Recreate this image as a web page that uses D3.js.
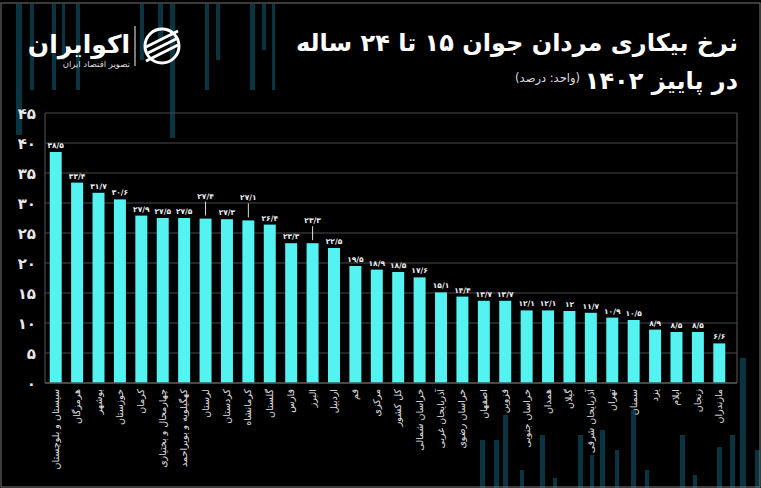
<!DOCTYPE html>
<html><head><meta charset="utf-8">
<script src="https://cdn.jsdelivr.net/npm/d3@7"></script>
<style>html,body{margin:0;padding:0;background:#000;}svg{display:block;}</style>
</head><body>
<script>
const provinces = ["سیستان و بلوچستان","هرمزگان","بوشهر","خوزستان","کرمان","چهارمحال و بختیاری","کهگیلویه و بویراحمد","لرستان","کردستان","کرمانشاه","گلستان","فارس","البرز","اردبیل","قم","مرکزی","کل کشور","خراسان شمالی","آذربایجان غربی","خراسان رضوی","اصفهان","قزوین","خراسان جنوبی","همدان","گیلان","آذربایجان شرقی","تهران","سمنان","یزد","ایلام","زنجان","مازندران"];
const rates = [38.5,33.4,31.7,30.6,27.9,27.5,27.5,27.4,27.3,27.1,26.4,23.3,23.3,22.5,19.5,18.9,18.5,17.6,15.1,14.4,13.7,13.7,12.1,12.1,12,11.7,10.9,10.5,8.9,8.5,8.5,6.6];
const yTicks = [0,5,10,15,20,25,30,35,40,45];
const liftedLabels = ["لرستان","کرمانشاه","البرز"];
const titleLine1 = "نرخ بیکاری مردان جوان ۱۵ تا ۲۴ ساله";
const titleLine2 = "در پاییز ۱۴۰۲";
const unitText = "(واحد: درصد)";

const W = 761, H = 488;
const fa = s => String(s).replace(/\d/g, d => "۰۱۲۳۴۵۶۷۸۹"[d]).replace(".", "/");
const FONT = "'DejaVu Sans', sans-serif";

const svg = d3.select("body").append("svg").attr("width", W).attr("height", H);
svg.append("rect").attr("width", W).attr("height", H).attr("fill", "#000");

// decorative streaks
const deco = [[16,4,135,6],[30,4,90,4],[52,4,90,4],[62,4,60,3],[76,4,90,4],[140,4,60,4],[158,4,40,5],[170,4,138,5],[205,4,90,4],[216,4,60,4],[250,4,90,5],[262,4,50,4],[272,4,90,3],
  [480,440,488,5],[494,440,488,5],[503,415,488,5],[520,470,488,4],[540,435,488,5],[553,478,488,4],[578,435,488,5],[590,455,488,4],[600,430,488,5],[615,450,488,4],[631,410,488,5],[645,470,488,4],[680,435,488,5],[693,475,488,4],[717,447,488,5],[730,435,488,5],[740,358,488,6],[755,450,488,5]];
svg.append("g").selectAll("rect").data(deco).join("rect")
  .attr("x", d => d[0]).attr("y", d => d[1]).attr("width", d => d[3]).attr("height", d => d[2]-d[1])
  .attr("fill", "#0b4252").attr("opacity", 0.8);

const x = d3.scaleBand().domain(provinces).range([45, 730]).paddingInner(0.44).paddingOuter(0.22);
const y = d3.scaleLinear().domain([0, 45]).range([383, 113]);

// grid
svg.append("g").selectAll("line").data(yTicks).join("line")
  .attr("x1", 45).attr("x2", 737).attr("y1", d => y(d)).attr("y2", d => y(d))
  .attr("stroke", "#4a4a4a").attr("stroke-width", 1.2);
svg.append("line").attr("x1", 45).attr("x2", 45).attr("y1", y(45)).attr("y2", y(0)).attr("stroke", "#4a4a4a").attr("stroke-width", 1.2);
svg.append("line").attr("x1", 737).attr("x2", 737).attr("y1", y(45)).attr("y2", y(0)).attr("stroke", "#4a4a4a").attr("stroke-width", 1.2);

// y axis
const yAxis = d3.axisLeft(y).tickValues(yTicks).tickFormat(fa).tickSize(0).tickPadding(0);
const ya = svg.append("g").attr("transform", "translate(36,0)").call(yAxis);
ya.select(".domain").remove();
ya.selectAll("text").attr("fill", "#e8e8e8").attr("font-family", FONT).attr("font-weight", "bold").attr("font-size", 15).attr("dy", "0.35em");

// bars
svg.append("g").selectAll("rect").data(provinces).join("rect")
  .attr("x", d => x(d)).attr("width", x.bandwidth())
  .attr("y", (d, i) => y(rates[i])).attr("height", (d, i) => y(0) - y(rates[i]))
  .attr("fill", "#55f2f2");
svg.append("line").attr("x1", 45).attr("x2", 737).attr("y1", y(0)).attr("y2", y(0)).attr("stroke", "#555").attr("stroke-width", 1.5);

// value labels
const vl = svg.append("g");
provinces.forEach((p, i) => {
  const cx = x(p) + x.bandwidth() / 2;
  const lift = liftedLabels.includes(p) ? 16 : 0;
  if (lift) {
    vl.append("line").attr("x1", cx).attr("x2", cx).attr("y1", y(rates[i]) - 3).attr("y2", y(rates[i]) - lift - 1)
      .attr("stroke", "#ddd").attr("stroke-width", 1);
  }
  vl.append("text").attr("x", cx).attr("y", y(rates[i]) - 4 - lift)
    .attr("text-anchor", "middle").attr("fill", "#f0f0f0").attr("font-family", FONT)
    .attr("font-weight", "bold").attr("font-size", 7.5).text(fa(rates[i]));
});

// x labels
const xa = svg.append("g");
provinces.forEach(p => {
  const cx = x(p) + x.bandwidth() / 2;
  xa.append("text").attr("transform", `translate(${cx + 3},389) rotate(-90)`)
    .attr("text-anchor", "end").attr("fill", "#e0e0e0").attr("font-family", FONT)
    .attr("font-size", 9.5).text(p);
});

// title
svg.append("text").attr("x", 738).attr("y", 51).attr("text-anchor", "end").attr("fill", "#fff")
  .attr("font-family", FONT).attr("font-weight", "bold").attr("font-size", 24).text(titleLine1);
svg.append("text").attr("x", 738).attr("y", 89).attr("text-anchor", "end").attr("fill", "#fff")
  .attr("font-family", FONT).attr("font-weight", "bold").attr("font-size", 24).text(titleLine2);
svg.append("text").attr("x", 580).attr("y", 82).attr("text-anchor", "end").attr("fill", "#ddd")
  .attr("font-family", FONT).attr("font-size", 11.5).text(unitText);

// logo
svg.append("text").attr("x", 130).attr("y", 53).attr("text-anchor", "end").attr("fill", "#fff")
  .attr("font-family", FONT).attr("font-weight", "bold").attr("font-size", 25).text("اکوایران");
svg.append("text").attr("x", 130).attr("y", 67).attr("text-anchor", "end").attr("fill", "#ddd")
  .attr("font-family", FONT).attr("font-size", 8.5).text("تصویر اقتصاد ایران");
svg.append("line").attr("x1", 135).attr("x2", 135).attr("y1", 26).attr("y2", 66).attr("stroke", "#ccc").attr("stroke-width", 1.2);
const icon = svg.append("g").attr("transform", "translate(162,46)");
icon.append("circle").attr("r", 17).attr("fill", "none").attr("stroke", "#fff").attr("stroke-width", 3);
[-7, 0, 7].forEach(o => icon.append("line").attr("x1", -16).attr("x2", 16).attr("y1", o + 8).attr("y2", o - 8)
  .attr("stroke", "#fff").attr("stroke-width", 3));

// frame
svg.append("rect").attr("x", 1).attr("y", 3).attr("width", W - 2).attr("height", H - 4)
  .attr("fill", "none").attr("stroke", "#777").attr("stroke-width", 1);
</script>
</body></html>
